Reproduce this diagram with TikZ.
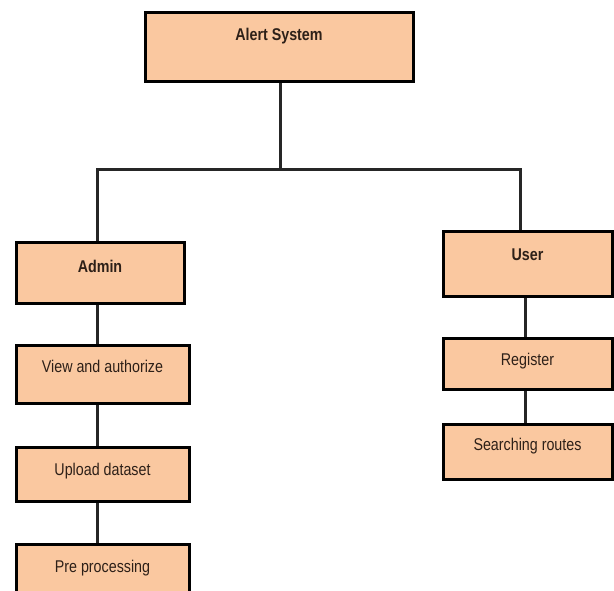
\documentclass[tikz,border=0pt]{standalone}
\usepackage{fontspec}
\setmainfont{Liberation Sans}[FakeStretch=0.84]
\definecolor{peach}{RGB}{250,200,160}
\definecolor{txt}{RGB}{45,32,24}
\begin{document}
\begin{tikzpicture}[x=1pt,y=-1pt,
  box/.style={draw=black, line width=3pt, fill=peach, inner sep=0pt, text=txt,
    font=\fontsize{17}{20}\selectfont},
  ttl/.style={box, font=\fontsize{17}{20}\selectfont\bfseries},
  conn/.style={draw=black!85, line width=3pt}]
\useasboundingbox (0,0) rectangle (614,591);
\fill[white] (0,0) rectangle (614,591);
\node[ttl, minimum width=268pt, text height=28pt, text depth=41pt, anchor=north] (alert) at (279,11) {Alert System};
\node[ttl, minimum width=168pt, text height=30pt, text depth=31pt, anchor=north] (admin) at (100,241) {Admin};
\node[ttl, minimum width=169pt, text height=29pt, text depth=36pt, anchor=north] (user) at (527.5,230) {User};
\node[box, minimum width=173pt, text height=27pt, text depth=31pt, anchor=north] (view) at (102.5,344) {View and authorize};
\node[box, minimum width=173pt, text height=28pt, text depth=26pt, anchor=north] (upload) at (102.5,446) {Upload dataset};
\node[box, minimum width=173pt, text height=28pt, text depth=32pt, anchor=north] (pre) at (102.5,543) {Pre processing};
\node[box, minimum width=169pt, text height=27pt, text depth=24pt, anchor=north] (register) at (527.5,337) {Register};
\node[box, minimum width=169pt, text height=25.5pt, text depth=29.5pt, anchor=north] (search) at (527.5,423) {Searching routes};
\coordinate (jm) at (280,170);
\coordinate (jl) at (97,170);
\coordinate (jr) at (520,170);
\coordinate (rx) at (525,300);
\path[conn] (alert.south -| jm) -- (jm);
\path[conn, line cap=rect] (jl) -- (jr);
\path[conn] (jl) -- (admin.north -| jl);
\path[conn] (jr) -- (user.north -| jr);
\path[conn] (admin.south -| jl) -- (view.north -| jl);
\path[conn] (view.south -| jl) -- (upload.north -| jl);
\path[conn] (upload.south -| jl) -- (pre.north -| jl);
\path[conn] (user.south -| rx) -- (register.north -| rx);
\path[conn] (register.south -| rx) -- (search.north -| rx);
\end{tikzpicture}
\end{document}
